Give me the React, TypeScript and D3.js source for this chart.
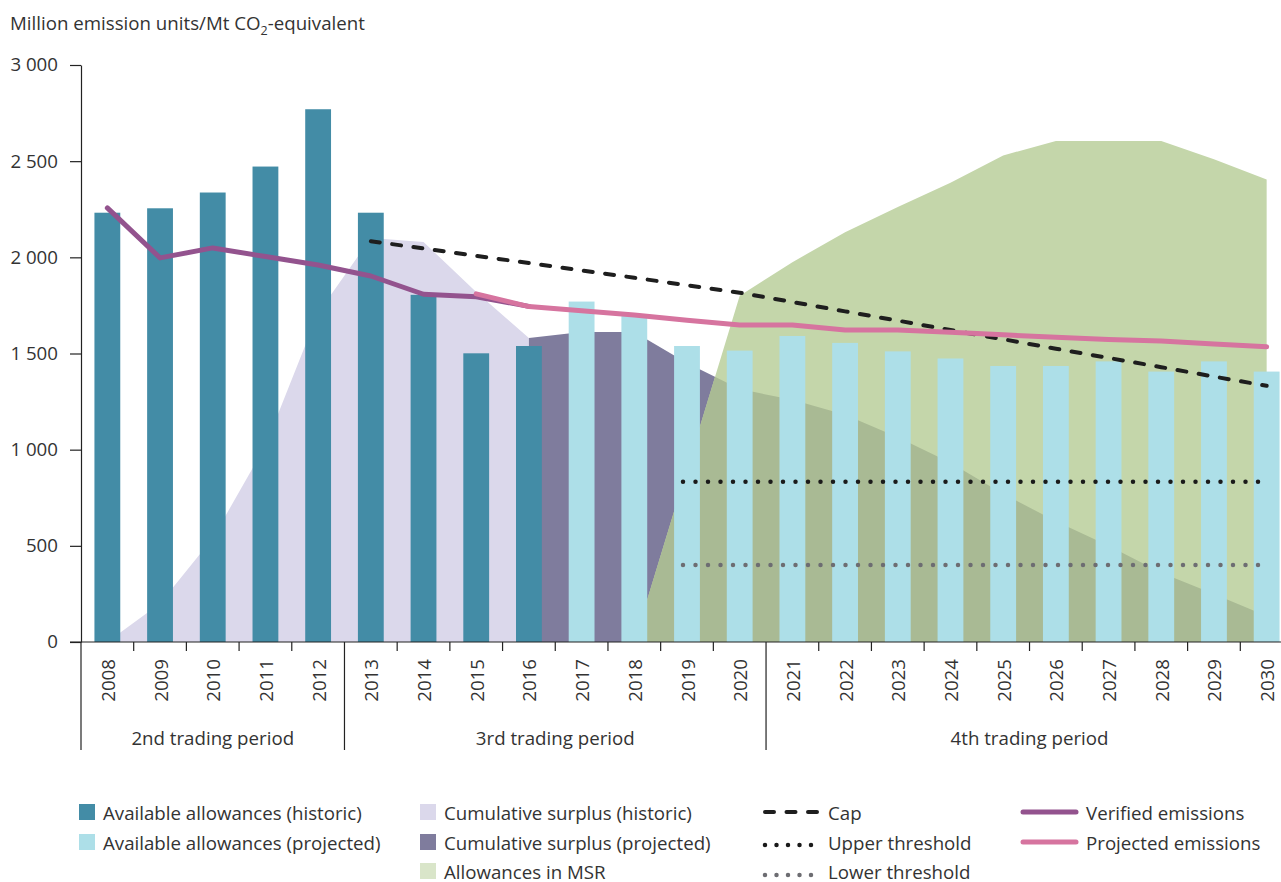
import React, { useEffect, useRef } from "react";
import * as d3 from "d3";

const years = [
  "2008", "2009", "2010", "2011", "2012", "2013", "2014", "2015", "2016", "2017", "2018", "2019",
  "2020", "2021", "2022", "2023", "2024", "2025", "2026", "2027", "2028", "2029", "2030",
];

// available allowances, bars
const historicYears = ["2008", "2009", "2010", "2011", "2012", "2013", "2014", "2015", "2016"];
const allowancesHistoric = [2232, 2255, 2337, 2472, 2770, 2232, 1805, 1501, 1539];
const projectedYears = [
  "2017", "2018", "2019", "2020", "2021", "2022", "2023", "2024", "2025", "2026", "2027", "2028", "2029", "2030",
];
const allowancesProjected = [1770, 1700, 1539, 1515, 1591, 1555, 1511, 1474, 1435, 1435, 1459, 1406, 1459, 1406];

// cumulative surplus, areas
const surplusHistoric = [0, 200, 540, 1020, 1710, 2100, 2080, 1820, 1580];
const surplusProjYears = [
  "2016", "2017", "2018", "2019", "2020", "2021", "2022", "2023", "2024", "2025", "2026", "2027", "2028", "2029", "2030",
];
const surplusProjected = [1580, 1612, 1612, 1450, 1315, 1259, 1182, 1065, 932, 770, 628, 500, 360, 250, 135];

// allowances in the MSR
const msrYears = ["2018", "2019", "2020", "2021", "2022", "2023", "2024", "2025", "2026", "2027", "2028", "2029", "2030"];
const msrValues = [0, 900, 1800, 1975, 2130, 2262, 2388, 2530, 2605, 2605, 2605, 2510, 2405];

// cap
const capYears = [
  "2013", "2014", "2015", "2016", "2017", "2018", "2019", "2020", "2021",
  "2022", "2023", "2024", "2025", "2026", "2027", "2028", "2029", "2030",
];
const capValues = [2084, 2046, 2008, 1970, 1932, 1894, 1855, 1816, 1768, 1719, 1671, 1622, 1574, 1525, 1477, 1429, 1380, 1332];

// emissions
const verifiedEmissions = [2257, 1997, 2049, 2004, 1960, 1903, 1808, 1795, 1745];
const projEmYears = [
  "2015", "2016", "2017", "2018", "2019", "2020", "2021", "2022",
  "2023", "2024", "2025", "2026", "2027", "2028", "2029", "2030",
];
const projectedEmissions = [1810, 1744, 1722, 1700, 1673, 1648, 1648, 1622, 1622, 1610, 1597, 1585, 1573, 1565, 1550, 1535];

// MSR thresholds
const thresholdYears = ["2019", "2030"];
const upperThreshold = 833;
const lowerThreshold = 400;

const yTicks = [0, 500, 1000, 1500, 2000, 2500, 3000];

const periodLabels = ["2nd trading period", "3rd trading period", "4th trading period"];
const periodStart = ["2008", "2013", "2021"];
const periodEnd = ["2012", "2020", "2030"];

const C = {
  teal: "#438ca6",
  lightBlue: "#addfe8",
  lavender: "#dbd8eb",
  purple: "#7f7c9d",
  green: "#c4d6aa",
  olive: "#a9ba94",
  verified: "#93538e",
  projected: "#d6749f",
  text: "#333333",
  axis: "#222222",
};

const FONT = "'Open Sans', 'Noto Sans', sans-serif";
const FS = "18.7px";

export default function App() {
  const ref = useRef(null);

  useEffect(() => {
    const svg = d3.select(ref.current);
    svg.selectAll("*").remove();

    const x = d3.scaleBand().domain(years).range([81, 1293]);
    const y = d3.scaleLinear().domain([0, 3000]).range([642, 65]);
    const cx = (yr) => x(yr) + x.bandwidth() / 2;
    const barW = x.bandwidth() * 0.49;

    const pairs = (ys, vs) => ys.map((yr, i) => ({ yr, v: vs[i] }));
    const area = d3.area().x((d) => cx(d.yr)).y0(y(0)).y1((d) => y(d.v));
    const line = d3.line().x((d) => cx(d.yr)).y((d) => y(d.v));

    const defs = svg.append("defs");
    defs.append("clipPath").attr("id", "msr-clip")
      .append("path").attr("d", area(pairs(msrYears, msrValues)));

    // areas
    svg.append("path").attr("d", area(pairs(historicYears, surplusHistoric))).attr("fill", C.lavender);
    svg.append("path").attr("d", area(pairs(surplusProjYears, surplusProjected))).attr("fill", C.purple);
    svg.append("path").attr("d", area(pairs(msrYears, msrValues))).attr("fill", C.green);
    svg.append("path").attr("d", area(pairs(surplusProjYears, surplusProjected)))
      .attr("fill", C.olive).attr("clip-path", "url(#msr-clip)");

    // bars
    svg.append("g").selectAll("rect")
      .data(pairs(historicYears, allowancesHistoric))
      .enter().append("rect")
      .attr("x", (d) => cx(d.yr) - barW / 2)
      .attr("y", (d) => y(d.v))
      .attr("width", barW)
      .attr("height", (d) => y(0) - y(d.v))
      .attr("fill", C.teal);
    svg.append("g").selectAll("rect")
      .data(pairs(projectedYears, allowancesProjected))
      .enter().append("rect")
      .attr("x", (d) => cx(d.yr) - barW / 2)
      .attr("y", (d) => y(d.v))
      .attr("width", barW)
      .attr("height", (d) => y(0) - y(d.v))
      .attr("fill", C.lightBlue);

    // thresholds
    const thr = (v, color) =>
      svg.append("line")
        .attr("x1", cx(thresholdYears[0]) - 4).attr("x2", cx(thresholdYears[1]) - 6)
        .attr("y1", y(v)).attr("y2", y(v))
        .attr("stroke", color).attr("stroke-width", 4.5)
        .attr("stroke-linecap", "round").attr("stroke-dasharray", "0 12.5");
    thr(upperThreshold, "#1a1a1a");
    thr(lowerThreshold, "#6d6d72");

    // cap
    svg.append("path").attr("d", line(pairs(capYears, capValues)))
      .attr("fill", "none").attr("stroke", "#1e1e1e").attr("stroke-width", 4)
      .attr("stroke-linecap", "round").attr("stroke-dasharray", "9 12.5");

    // emissions
    svg.append("path").attr("d", line(pairs(historicYears, verifiedEmissions)))
      .attr("fill", "none").attr("stroke", C.verified).attr("stroke-width", 5)
      .attr("stroke-linecap", "round").attr("stroke-linejoin", "round");
    svg.append("path").attr("d", line(pairs(projEmYears, projectedEmissions)))
      .attr("fill", "none").attr("stroke", C.projected).attr("stroke-width", 5)
      .attr("stroke-linecap", "round").attr("stroke-linejoin", "round");

    // y axis
    const fmt = (v) => d3.format(",")(v).replace(/,/g, " ");
    const yAxis = svg.append("g")
      .attr("transform", "translate(81,0)")
      .call(d3.axisLeft(y).tickValues(yTicks).tickSize(11).tickSizeOuter(0).tickFormat(fmt).tickPadding(12));
    yAxis.select(".domain").attr("stroke", C.axis).attr("stroke-width", 1.2);
    yAxis.selectAll(".tick line").attr("stroke", C.axis).attr("stroke-width", 1.2);
    yAxis.selectAll("text").attr("fill", C.text).style("font-family", FONT).style("font-size", FS);

    // x axis
    const xa = svg.append("g");
    xa.append("line").attr("x1", 70).attr("x2", 1293).attr("y1", y(0)).attr("y2", y(0))
      .attr("stroke", C.axis).attr("stroke-width", 1.2);
    xa.selectAll(".tk")
      .data(years.filter((yr) => !periodStart.includes(yr)))
      .enter().append("line")
      .attr("x1", (yr) => x(yr)).attr("x2", (yr) => x(yr))
      .attr("y1", y(0)).attr("y2", y(0) + 9)
      .attr("stroke", C.axis).attr("stroke-width", 1.2);
    xa.selectAll(".sep")
      .data(periodStart)
      .enter().append("line")
      .attr("x1", (yr) => x(yr)).attr("x2", (yr) => x(yr))
      .attr("y1", y(0)).attr("y2", 750)
      .attr("stroke", C.axis).attr("stroke-width", 1.2);
    xa.selectAll(".yl")
      .data(years)
      .enter().append("text")
      .attr("transform", (yr) => `translate(${cx(yr)},659) rotate(-90)`)
      .attr("text-anchor", "end")
      .attr("dominant-baseline", "central")
      .attr("fill", C.text)
      .style("font-family", FONT).style("font-size", FS)
      .text((yr) => yr);
    xa.selectAll(".pl")
      .data(periodLabels)
      .enter().append("text")
      .attr("x", (d, i) => (x(periodStart[i]) + x(periodEnd[i]) + x.bandwidth()) / 2)
      .attr("y", 745)
      .attr("text-anchor", "middle")
      .attr("fill", C.text)
      .style("font-family", FONT).style("font-size", FS)
      .text((d) => d);

    // title
    const title = svg.append("text").attr("x", 10).attr("y", 30).attr("fill", C.text)
      .style("font-family", FONT).style("font-size", FS);
    title.append("tspan").text("Million emission units/Mt CO");
    title.append("tspan").attr("dy", 5).style("font-size", "12.5px").text("2");
    title.append("tspan").attr("dy", -5).text("-equivalent");

    // legend
    const lg = svg.append("g").style("font-family", FONT).style("font-size", FS);
    const rows = [812, 842, 871];
    const swatches = [
      { x: 79, row: 0, fill: C.teal, label: "Available allowances (historic)" },
      { x: 79, row: 1, fill: C.lightBlue, label: "Available allowances (projected)" },
      { x: 420, row: 0, fill: C.lavender, label: "Cumulative surplus (historic)" },
      { x: 420, row: 1, fill: C.purple, label: "Cumulative surplus (projected)" },
      { x: 420, row: 2, fill: "#d9e5c9", label: "Allowances in MSR" },
    ];
    swatches.forEach((s) => {
      lg.append("rect").attr("x", s.x).attr("y", rows[s.row] - 8).attr("width", 16).attr("height", 16).attr("fill", s.fill);
      lg.append("text").attr("x", s.x + 24).attr("y", rows[s.row]).attr("dominant-baseline", "central")
        .attr("fill", C.text).text(s.label);
    });
    const lines = [
      { x: 765, row: 0, color: "#1e1e1e", w: 4, dash: "9 12.5", dy: 0, label: "Cap" },
      { x: 765, row: 1, color: "#1a1a1a", w: 4.5, dash: "0 11.5", dy: 3, label: "Upper threshold" },
      { x: 765, row: 2, color: "#6d6d72", w: 4.5, dash: "0 11.5", dy: 4, label: "Lower threshold" },
      { x: 1023, row: 0, color: C.verified, w: 5, dash: null, dy: 0, label: "Verified emissions" },
      { x: 1023, row: 1, color: C.projected, w: 5, dash: null, dy: 0, label: "Projected emissions" },
    ];
    lines.forEach((l) => {
      const ln = lg.append("line")
        .attr("x1", l.x).attr("x2", l.x + 53)
        .attr("y1", rows[l.row] + l.dy).attr("y2", rows[l.row] + l.dy)
        .attr("stroke", l.color).attr("stroke-width", l.w).attr("stroke-linecap", "round");
      if (l.dash) ln.attr("stroke-dasharray", l.dash);
      lg.append("text").attr("x", l.x + 63).attr("y", rows[l.row]).attr("dominant-baseline", "central")
        .attr("fill", C.text).text(l.label);
    });
  }, []);

  return (
    <div style={{ position: "absolute", left: 0, top: 0 }}>
      <svg ref={ref} width={1281} height={882} style={{ display: "block" }} />
    </div>
  );
}
